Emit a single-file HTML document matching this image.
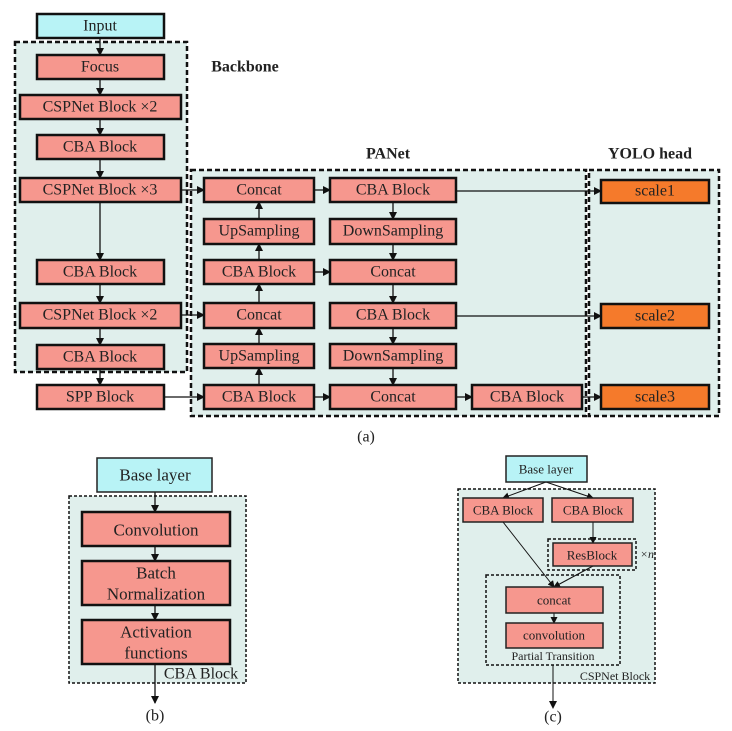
<!DOCTYPE html>
<html><head><style>
html,body{margin:0;padding:0;background:#fff}
svg{display:block}
svg text{font-family:"Liberation Serif","Times New Roman","DejaVu Serif",serif;fill:#222;text-anchor:middle;dominant-baseline:central}
.p{fill:#f6978e;stroke:#111;stroke-width:2.5}
.c{fill:#b8f3f6;stroke:#111;stroke-width:2.5}
.o{fill:#f57a2b;stroke:#111;stroke-width:2.5}
.d{fill:#e0efec;stroke:#111;stroke-width:2.5;stroke-dasharray:5 3}
.d2{fill:#e0efec;stroke:#111;stroke-width:1.5;stroke-dasharray:3 2}
.d3{fill:none;stroke:#111;stroke-width:1.5;stroke-dasharray:3 2}
.pt{fill:#f6978e;stroke:#222;stroke-width:1.5}
.ct{fill:#b8f3f6;stroke:#222;stroke-width:1.5}
.l{stroke:#111;stroke-width:1.3;fill:none}
</style></head><body>
<svg width="732" height="731" viewBox="0 0 732 731" font-family="Liberation Serif, serif">
<defs>
<marker id="a" markerWidth="8" markerHeight="8" refX="7" refY="4" orient="auto" markerUnits="userSpaceOnUse"><path d="M0,0L8,4L0,8z" fill="#111"/></marker>
<marker id="s" markerWidth="7" markerHeight="7" refX="6" refY="3.5" orient="auto" markerUnits="userSpaceOnUse"><path d="M0,0L7,3.5L0,7z" fill="#111"/></marker>
</defs>
<rect class="d" x="15" y="42" width="172" height="330"/>
<rect class="d" x="191" y="170" width="395" height="246"/>
<rect class="d" x="589" y="170" width="130" height="246"/>
<text x="245" y="67" font-weight="bold" font-size="16">Backbone</text>
<text x="388" y="154" font-weight="bold" font-size="16">PANet</text>
<text x="650" y="154" font-weight="bold" font-size="16">YOLO head</text>
<g class="l">
<line x1="100" y1="38" x2="100" y2="55" marker-end="url(#a)"/>
<line x1="100" y1="79" x2="100" y2="95" marker-end="url(#a)"/>
<line x1="100" y1="119" x2="100" y2="135" marker-end="url(#a)"/>
<line x1="100" y1="159" x2="100" y2="178" marker-end="url(#a)"/>
<line x1="100" y1="202" x2="100" y2="260" marker-end="url(#a)"/>
<line x1="100" y1="284" x2="100" y2="303" marker-end="url(#a)"/>
<line x1="100" y1="328" x2="100" y2="345" marker-end="url(#a)"/>
<line x1="100" y1="369" x2="100" y2="385" marker-end="url(#a)"/>
<line x1="181" y1="190" x2="204" y2="190" marker-end="url(#a)"/>
<line x1="181" y1="315" x2="204" y2="315" marker-end="url(#a)"/>
<line x1="164" y1="397" x2="204" y2="397" marker-end="url(#a)"/>
<line x1="259" y1="219" x2="259" y2="202" marker-end="url(#a)"/>
<line x1="259" y1="260" x2="259" y2="244" marker-end="url(#a)"/>
<line x1="259" y1="303" x2="259" y2="284" marker-end="url(#a)"/>
<line x1="259" y1="344" x2="259" y2="328" marker-end="url(#a)"/>
<line x1="259" y1="385" x2="259" y2="368" marker-end="url(#a)"/>
<line x1="314" y1="190" x2="330" y2="190" marker-end="url(#a)"/>
<line x1="314" y1="272" x2="330" y2="272" marker-end="url(#a)"/>
<line x1="314" y1="397" x2="330" y2="397" marker-end="url(#a)"/>
<line x1="393" y1="202" x2="393" y2="219" marker-end="url(#a)"/>
<line x1="393" y1="244" x2="393" y2="260" marker-end="url(#a)"/>
<line x1="393" y1="284" x2="393" y2="303" marker-end="url(#a)"/>
<line x1="393" y1="328" x2="393" y2="344" marker-end="url(#a)"/>
<line x1="393" y1="368" x2="393" y2="385" marker-end="url(#a)"/>
<line x1="456" y1="397" x2="472" y2="397" marker-end="url(#a)"/>
<line x1="456" y1="191" x2="601" y2="191" marker-end="url(#a)"/>
<line x1="456" y1="316" x2="601" y2="316" marker-end="url(#a)"/>
<line x1="582" y1="397" x2="601" y2="397" marker-end="url(#a)"/>
</g>
<rect class="c" x="37" y="14" width="127" height="24"/><text x="100" y="26" font-size="16">Input</text>
<rect class="p" x="37" y="55" width="127" height="24"/><text x="100" y="67" font-size="16">Focus</text>
<rect class="p" x="20" y="95" width="161" height="24"/><text x="100" y="107" font-size="16">CSPNet Block ×2</text>
<rect class="p" x="37" y="135" width="127" height="24"/><text x="100" y="147" font-size="16">CBA Block</text>
<rect class="p" x="20" y="178" width="161" height="24"/><text x="100" y="190" font-size="16">CSPNet Block ×3</text>
<rect class="p" x="37" y="260" width="127" height="24"/><text x="100" y="272" font-size="16">CBA Block</text>
<rect class="p" x="20" y="303" width="161" height="25"/><text x="100" y="315" font-size="16">CSPNet Block ×2</text>
<rect class="p" x="37" y="345" width="127" height="24"/><text x="100" y="357" font-size="16">CBA Block</text>
<rect class="p" x="37" y="385" width="127" height="24"/><text x="100" y="397" font-size="16">SPP Block</text>
<rect class="p" x="204" y="178" width="110" height="24"/><text x="259" y="190" font-size="16">Concat</text>
<rect class="p" x="204" y="219" width="110" height="25"/><text x="259" y="231" font-size="16">UpSampling</text>
<rect class="p" x="204" y="260" width="110" height="24"/><text x="259" y="272" font-size="16">CBA Block</text>
<rect class="p" x="204" y="303" width="110" height="25"/><text x="259" y="315" font-size="16">Concat</text>
<rect class="p" x="204" y="344" width="110" height="24"/><text x="259" y="356" font-size="16">UpSampling</text>
<rect class="p" x="204" y="385" width="110" height="24"/><text x="259" y="397" font-size="16">CBA Block</text>
<rect class="p" x="330" y="178" width="126" height="24"/><text x="393" y="190" font-size="16">CBA Block</text>
<rect class="p" x="330" y="219" width="126" height="25"/><text x="393" y="231" font-size="16">DownSampling</text>
<rect class="p" x="330" y="260" width="126" height="24"/><text x="393" y="272" font-size="16">Concat</text>
<rect class="p" x="330" y="303" width="126" height="25"/><text x="393" y="315" font-size="16">CBA Block</text>
<rect class="p" x="330" y="344" width="126" height="24"/><text x="393" y="356" font-size="16">DownSampling</text>
<rect class="p" x="330" y="385" width="126" height="24"/><text x="393" y="397" font-size="16">Concat</text>
<rect class="p" x="472" y="385" width="110" height="24"/><text x="527" y="397" font-size="16">CBA Block</text>
<rect class="o" x="601" y="180" width="108" height="23"/><text x="655" y="191" font-size="16">scale1</text>
<rect class="o" x="601" y="304" width="108" height="24"/><text x="655" y="316" font-size="16">scale2</text>
<rect class="o" x="601" y="385" width="108" height="24"/><text x="655" y="397" font-size="16">scale3</text>
<text x="366" y="437" font-size="16">(a)</text>

<rect class="d2" x="69" y="496" width="177" height="187"/>
<g class="l">
<line x1="155" y1="492" x2="155" y2="512" marker-end="url(#a)"/>
<line x1="155" y1="546" x2="155" y2="561" marker-end="url(#a)"/>
<line x1="155" y1="605" x2="155" y2="620" marker-end="url(#a)"/>
<line x1="155" y1="664" x2="155" y2="703" marker-end="url(#a)"/>
</g>
<rect class="ct" x="97" y="458" width="115" height="34"/><text x="155" y="475" font-size="17">Base layer</text>
<rect class="p" x="82" y="512" width="148" height="34"/><text x="156" y="530" font-size="17">Convolution</text>
<rect class="p" x="82" y="561" width="148" height="44"/><text x="156" y="573" font-size="17">Batch</text><text x="156" y="594" font-size="17">Normalization</text>
<rect class="p" x="82" y="620" width="148" height="44"/><text x="156" y="632" font-size="17">Activation</text><text x="156" y="653" font-size="17">functions</text>
<text x="201" y="674" font-size="16">CBA Block</text>
<text x="155" y="716" font-size="16">(b)</text>

<rect class="d2" x="458" y="489" width="197" height="194"/>
<rect class="d3" x="548" y="539" width="88" height="31"/>
<rect class="d3" x="486" y="575" width="134" height="90"/>
<g class="l" style="stroke-width:1">
<line x1="546" y1="482" x2="503" y2="498" marker-end="url(#s)"/>
<line x1="546" y1="482" x2="593" y2="498" marker-end="url(#s)"/>
<line x1="593" y1="522" x2="593" y2="543" marker-end="url(#s)"/>
<line x1="503" y1="522" x2="554" y2="587" marker-end="url(#s)"/>
<line x1="593" y1="566" x2="554" y2="587" marker-end="url(#s)"/>
<line x1="554" y1="613" x2="554" y2="623" marker-end="url(#s)"/>
<line x1="553" y1="665" x2="553" y2="708" marker-end="url(#a)"/>
</g>
<rect class="ct" x="506" y="456" width="81" height="26"/><text x="546" y="469" font-size="13">Base layer</text>
<rect class="pt" x="463" y="498" width="80" height="24"/><text x="503" y="510" font-size="13">CBA Block</text>
<rect class="pt" x="552" y="498" width="81" height="24"/><text x="593" y="510" font-size="13">CBA Block</text>
<rect class="pt" x="553" y="543" width="79" height="23"/><text x="592" y="555" font-size="13">ResBlock</text>
<text x="647" y="554" font-size="12" font-style="italic">×n</text>
<rect class="pt" x="506" y="587" width="97" height="26"/><text x="554" y="600" font-size="13">concat</text>
<rect class="pt" x="506" y="623" width="97" height="25"/><text x="554" y="635" font-size="13">convolution</text>
<text x="553" y="656" font-size="12">Partial Transition</text>
<text x="615" y="676" font-size="12">CSPNet Block</text>
<text x="553" y="717" font-size="16">(c)</text>
</svg>
</body></html>
